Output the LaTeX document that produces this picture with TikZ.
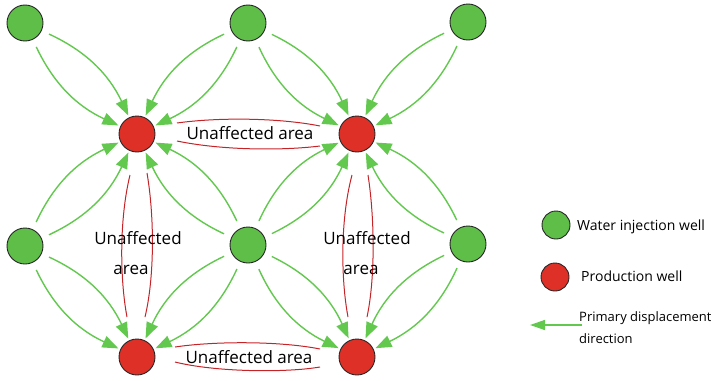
\documentclass[tikz,border=0pt]{standalone}
\usepackage{fontspec}
\setmainfont{Open Sans}
\usetikzlibrary{arrows.meta}
\definecolor{injgreen}{RGB}{94,190,72}
\definecolor{flowgreen}{RGB}{98,200,78}
\definecolor{prodred}{RGB}{222,48,38}
\definecolor{lensred}{RGB}{196,36,40}
\tikzset{
  inj/.style={circle, draw=black!85, fill=injgreen, minimum size=36pt, inner sep=0pt, line width=0.9pt},
  prod/.style={circle, draw=black!85, fill=prodred, minimum size=36pt, inner sep=0pt, line width=0.9pt},
  flow/.style={draw=flowgreen, line width=1.4pt, -{Triangle[length=16pt,width=12pt]}, shorten <=8pt, shorten >=2pt},
  lensline/.style={draw=lensred, line width=1pt},
  lbl/.style={font=\fontsize{17}{20}\selectfont, inner sep=0pt},
  leg/.style={font=\fontsize{14}{16}\selectfont, inner sep=0pt, anchor=west},
  legs/.style={font=\fontsize{13}{15}\selectfont, inner sep=0pt, anchor=west}
}
\begin{document}
\begin{tikzpicture}[x=1pt,y=-1pt]
\useasboundingbox (0,0) rectangle (711,380);
% wells
\node[inj] (g1) at (25,23) {};
\node[inj] (g2) at (248,23) {};
\node[inj] (g3) at (468,22) {};
\node[inj] (g4) at (25,246) {};
\node[inj] (g5) at (248,245) {};
\node[inj] (g6) at (468,244) {};
\node[prod] (r1) at (137,134) {};
\node[prod] (r2) at (357,134) {};
\node[prod] (r3) at (137,357) {};
\node[prod] (r4) at (357,357) {};
% flows
\foreach \g/\r in {g1/r1,g2/r1,g2/r2,g3/r2,g4/r1,g4/r3,g5/r1,g5/r2,g5/r3,g5/r4,g6/r2,g6/r4}{
  \draw[flow] (\g) to[bend left=20] (\r);
  \draw[flow] (\g) to[bend right=20] (\r);
}
% unaffected lenses
\draw[lensline] (177,123) .. controls (220,117) and (280,118) .. (320,126);
\draw[lensline] (177,141) .. controls (220,150) and (280,151) .. (320,146);
\draw[lensline] (175,347) .. controls (215,341) and (280,341) .. (320,349);
\draw[lensline] (175,362) .. controls (215,372) and (285,373) .. (320,367);
\draw[lensline] (130,175) .. controls (119,220) and (120,280) .. (127,317);
\draw[lensline] (147,173) .. controls (155,220) and (154,280) .. (145,317);
\draw[lensline] (352,175) .. controls (340,220) and (341,280) .. (348,317);
\draw[lensline] (368,175) .. controls (375,220) and (375,280) .. (367,317);
% labels
\node[lbl] (t1) at (250,133) {Unaffected area};
\node[lbl] (t2) at (249,357) {Unaffected area};
\node[lbl,anchor=base] (t3a) at (138,244) {Unaffected};
\node[lbl,anchor=base] (t3b) at (131,274) {area};
\node[lbl,anchor=base] (t4a) at (367,244) {Unaffected};
\node[lbl,anchor=base] (t4b) at (361,274) {area};
% legend
\node[inj, minimum size=28pt] (lg) at (556,225) {};
\node[leg] (lgt) at (577,227) {Water injection well};
\node[prod, minimum size=28pt] (lr) at (555,277) {};
\node[leg] (lrt) at (581,276) {Production well};
\coordinate (la1) at (582,325);
\coordinate (la2) at (530,325);
\draw[draw=flowgreen, line width=1.4pt, -{Triangle[length=15pt,width=10pt]}] (la1) -- (la2);
\node[legs] (lat1) at (579,318) {Primary displacement};
\node[legs] (lat2) at (579,339) {direction};
\end{tikzpicture}
\end{document}
